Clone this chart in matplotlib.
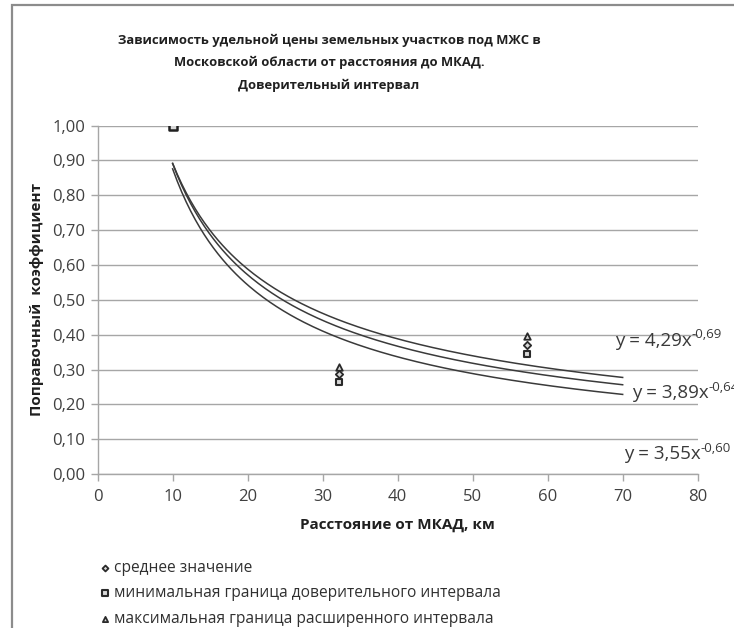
import numpy as np
import matplotlib.pyplot as plt
from matplotlib.patches import Rectangle

plt.rcParams['font.family'] = ['Open Sans', 'Noto Sans', 'DejaVu Sans']

# точки: расстояние до МКАД, км
dist = [10, 32.2, 57.3]
mean_val = [1.00, 0.287, 0.370]     # среднее значение
min_conf = [1.00, 0.265, 0.346]     # минимальная граница доверительного интервала
max_ext = [1.00, 0.308, 0.396]      # максимальная граница расширенного интервала

# степенные линии тренда y = a * x^b
trend_a = [4.29, 3.89, 3.55]
trend_b = [-0.69, -0.64, -0.60]
trend_labels = ['4,29', '3,89', '3,55']
trend_pow = ['-0,69', '-0,64', '-0,60']
label_pos = [(69.0, 0.383), (71.2, 0.232), (70.2, 0.057)]

GRID = '#a6a6a6'
DARK = '#3a3a3a'
BOLD = ['Open Sans', 'Roboto', 'Liberation Sans', 'DejaVu Sans']

fig = plt.figure(figsize=(7.34, 6.28), dpi=100)
ax = fig.add_axes([0.133, 0.245, 0.8175, 0.555])

# рамка области диаграммы
fig.patches.append(Rectangle((12 / 734, -0.05), 1.2, 1 - 5 / 628 + 0.05, transform=fig.transFigure,
                             fill=False, edgecolor='#8c8c8c', lw=1.6, zorder=0))

xs = np.linspace(10, 70, 200)
for a, b in zip(trend_a, trend_b):
    ax.plot(xs, a * xs ** b, color=DARK, lw=1.1, zorder=3)

ax.scatter(dist, mean_val, marker='D', s=14, facecolor='#d9d9d9', edgecolor='#2a2a2a', lw=1.3, zorder=4,
           label='среднее значение')
ax.scatter(dist, min_conf, marker='s', s=24, facecolor='#d9d9d9', edgecolor='#2a2a2a', lw=1.5, zorder=4,
           label='минимальная граница доверительного интервала')
ax.scatter(dist, max_ext, marker='^', s=22, facecolor='#d9d9d9', edgecolor='#2a2a2a', lw=1.3, zorder=4,
           label='максимальная граница расширенного интервала')
# точка при 10 км перекрыта квадратом
ax.scatter(dist[:1], min_conf[:1], marker='s', s=26, facecolor='#d9d9d9', edgecolor='#202020', lw=1.8, zorder=5)

for (lx, ly), c, p in zip(label_pos, trend_labels, trend_pow):
    base = ax.text(lx, ly, 'y = ' + c + 'x', fontsize=13.5, color=DARK, va='center', ha='left',
                   clip_on=False, zorder=6)
    ax.annotate(p, xy=(1.0, 0.48), xycoords=base, fontsize=9.5, color=DARK, va='bottom', ha='left',
                annotation_clip=False, zorder=6)

ax.set_xlim(0, 80)
ax.set_ylim(0, 1.0)
ax.set_xticks(np.arange(0, 81, 10))
ax.set_yticks(np.arange(0, 1.01, 0.1))
ax.set_yticklabels([('%.2f' % v).replace('.', ',') for v in np.arange(0, 1.01, 0.1)])
ax.tick_params(axis='both', labelsize=12, colors=GRID, labelcolor='#404040', length=5, width=1)
ax.tick_params(axis='x', pad=6)
ax.tick_params(axis='y', pad=4)
ax.yaxis.grid(True, color=GRID, lw=1)
ax.set_axisbelow(True)
for s in ['top', 'right']:
    ax.spines[s].set_visible(False)
for s in ['left', 'bottom']:
    ax.spines[s].set_color(GRID)
    ax.spines[s].set_linewidth(1)

ax.set_xlabel('Расстояние от МКАД, км', fontsize=11, fontweight='bold', family=BOLD,
              color='#202020', labelpad=9)
ax.set_ylabel('Поправочный  коэффициент', fontsize=11, fontweight='bold', family=BOLD,
              color='#202020', labelpad=6)

fig.text(0.448, 0.9,
         'Зависимость удельной цены земельных участков под МЖС в\n'
         'Московской области от расстояния до МКАД.\nДоверительный интервал',
         ha='center', va='center', fontsize=9.4, fontweight='bold', family=BOLD,
         color='#202020', linespacing=1.9)

ax.legend(loc='upper left', bbox_to_anchor=(0.125, 0.118), bbox_transform=fig.transFigure,
          frameon=False, fontsize=11.2, handletextpad=0.15, labelspacing=0.6, borderaxespad=0,
          handlelength=0.9, markerscale=0.8, labelcolor='#303030')

fig.savefig('out.png', dpi=100)
